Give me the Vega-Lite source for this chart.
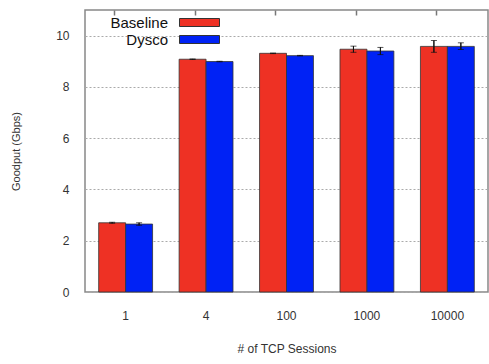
{
  "$schema": "https://vega.github.io/schema/vega-lite/v6.json",
  "autosize": "none",
  "padding": {"left": 85, "top": 10, "right": 1, "bottom": 72},
  "width": 403,
  "height": 282,
  "background": "white",
  "config": {
    "font": "Liberation Sans",
    "view": {"stroke": "#888888", "strokeWidth": 1.5},
    "axis": {"labelFont": "Liberation Sans", "titleFont": "Liberation Sans", "labelColor": "#333333", "titleColor": "#333333"}
  },
  "data": {"values": [
    {"sessions": "1", "system": "Baseline", "goodput": 2.70, "lo": 2.68, "hi": 2.72},
    {"sessions": "1", "system": "Dysco", "goodput": 2.65, "lo": 2.60, "hi": 2.70},
    {"sessions": "4", "system": "Baseline", "goodput": 9.08, "lo": 9.07, "hi": 9.09},
    {"sessions": "4", "system": "Dysco", "goodput": 8.99, "lo": 8.98, "hi": 9.00},
    {"sessions": "100", "system": "Baseline", "goodput": 9.31, "lo": 9.30, "hi": 9.32},
    {"sessions": "100", "system": "Dysco", "goodput": 9.22, "lo": 9.21, "hi": 9.23},
    {"sessions": "1000", "system": "Baseline", "goodput": 9.47, "lo": 9.35, "hi": 9.59},
    {"sessions": "1000", "system": "Dysco", "goodput": 9.40, "lo": 9.26, "hi": 9.54},
    {"sessions": "10000", "system": "Baseline", "goodput": 9.58, "lo": 9.35, "hi": 9.81},
    {"sessions": "10000", "system": "Dysco", "goodput": 9.58, "lo": 9.46, "hi": 9.72}
  ]},
  "resolve": {"scale": {"x": "independent", "xOffset": "independent"}, "axis": {"x": "independent"}},
  "layer": [
    {
      "layer": [
        {
          "mark": {"type": "bar", "stroke": "#333333", "strokeWidth": 0.8},
          "encoding": {
            "y": {"field": "goodput", "type": "quantitative", "scale": {"domain": [0, 11], "nice": false},
              "axis": {"title": "Goodput (Gbps)", "values": [0, 2, 4, 6, 8, 10], "labelFontSize": 12, "titleFontSize": 11, "titleFontWeight": "normal", "labelPadding": 16, "titlePadding": 34, "ticks": false, "domain": false, "gridDash": [2, 2], "gridColor": "#aaaaaa"}},
            "color": {"field": "system", "type": "nominal", "sort": ["Baseline", "Dysco"],
              "scale": {"domain": ["Baseline", "Dysco"], "range": ["#ee3124", "#0022f5"]},
              "legend": {"title": null, "orient": "none", "legendX": 107, "legendY": 5, "symbolType": "M-5,-1H5V1H-5Z", "symbolSize": 64, "symbolStrokeColor": "#333333", "symbolStrokeWidth": 1, "symbolOpacity": 1, "labelAlign": "right", "labelOffset": -39, "labelFontSize": 15, "labelColor": "#111111", "rowPadding": 1}}
          }
        },
        {
          "mark": {"type": "rule", "color": "#111111", "strokeWidth": 1},
          "encoding": {"y": {"field": "lo", "type": "quantitative"}, "y2": {"field": "hi"}}
        },
        {
          "mark": {"type": "tick", "color": "#111111", "thickness": 1, "size": 6},
          "encoding": {"y": {"field": "lo", "type": "quantitative"}}
        },
        {
          "mark": {"type": "tick", "color": "#111111", "thickness": 1, "size": 6},
          "encoding": {"y": {"field": "hi", "type": "quantitative"}}
        }
      ],
      "encoding": {
        "x": {"field": "sessions", "type": "nominal", "sort": ["1", "4", "100", "1000", "10000"],
          "scale": {"paddingInner": 0.33, "paddingOuter": 0.17},
          "axis": {"orient": "bottom", "title": "# of TCP Sessions", "labelAngle": 0, "labelFontSize": 12, "titleFontSize": 12, "titleFontWeight": "normal", "labelPadding": 18, "titlePadding": 22, "ticks": false, "domain": false}},
        "xOffset": {"field": "system", "type": "nominal", "sort": ["Baseline", "Dysco"]}
      }
    },
    {
      "mark": {"type": "rule", "color": "#111111", "strokeWidth": 1},
      "encoding": {
        "x": {"field": "sessions", "type": "nominal", "sort": ["1", "4", "100", "1000", "10000"],
          "scale": {"paddingInner": 0.33, "paddingOuter": 0.17},
          "axis": {"orient": "top", "title": null, "labels": false, "domain": false, "ticks": true, "tickSize": -5, "bandPosition": 0.3, "tickColor": "#777777", "tickWidth": 1.5, "grid": false}},
        "xOffset": {"field": "system", "type": "nominal", "sort": ["Baseline", "Dysco"]},
        "y": {"field": "lo", "type": "quantitative"}, "y2": {"field": "hi"}}
    }
  ]
}
